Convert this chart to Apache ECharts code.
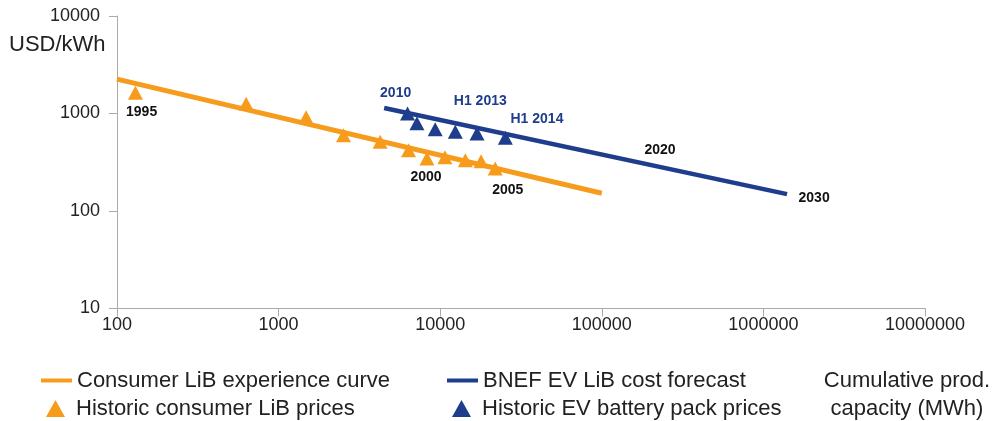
<!DOCTYPE html>
<html><head><meta charset="utf-8">
<script src="https://cdn.jsdelivr.net/npm/echarts@6/dist/echarts.min.js"></script>
<style>html,body{margin:0;padding:0;background:#fff}#c{width:997px;height:421px}</style>
</head><body><div id="c"></div>
<script>
// ---- data ----
const xTicks = [100, 1000, 10000, 100000, 1000000, 10000000];
const yTicks = [10, 100, 1000, 10000];
const consumerCurve = [[100, 2250], [100000, 152]];
const evForecast = [[4500, 1140], [1400000, 149]];
const consumerPrices = [[130, 1630], [630, 1260], [1480, 915], [2520, 600], [4250, 512], [6370, 420], [8280, 346], [10700, 355], [14300, 332], [17900, 324], [21900, 273]];
const evPrices = [[6280, 1000], [7180, 796], [9310, 690], [12400, 648], [16900, 624], [25300, 565]];
const yearLabels = ['1995', '2000', '2005', '2010', 'H1 2013', 'H1 2014', '2020', '2030'];
const yearLabelPos = [[142, 1039], [8170, 224], [26200, 164], [5300, 1603], [17700, 1336], [39700, 874], [229000, 421], [2060000, 135]];
const seriesNames = ['Consumer LiB experience curve', 'Historic consumer LiB prices', 'BNEF EV LiB cost forecast', 'Historic EV battery pack prices'];
const yAxisTitle = 'USD/kWh';
const xAxisTitle = ['Cumulative prod.', 'capacity (MWh)'];

// ---- styles ----
const ORANGE = '#f79b1c';
const BLUE = '#1f3d8d';
const FONT = '"Liberation Sans", Arial, sans-serif';
const TXT = '#222';
const blueLabelSet = new Set(['2010', 'H1 2013', 'H1 2014']);

const chart = echarts.init(document.getElementById('c'), null, {renderer: 'canvas'});
const triPath = 'path://M0,17L9.5,0L19,17Z';
const legendBase = {
  orient: 'vertical', itemGap: 0, padding: 0, selectedMode: false,
  textStyle: {fontFamily: FONT, fontSize: 22, color: TXT}
};
const fmt = v => String(Math.round(v));

chart.setOption({
  animation: false,
  textStyle: {fontFamily: FONT},
  grid: {left: 117, right: 72, top: 16, bottom: 112.5},
  xAxis: {
    type: 'log', logBase: 10, min: xTicks[0], max: xTicks[xTicks.length - 1],
    axisLine: {lineStyle: {color: '#aaa', width: 1}},
    axisTick: {show: true, length: 8, lineStyle: {color: '#aaa'}},
    minorTick: {show: false},
    splitLine: {show: false},
    axisLabel: {color: TXT, fontSize: 18, fontFamily: FONT, margin: 8, formatter: fmt}
  },
  yAxis: {
    type: 'log', logBase: 10, min: yTicks[0], max: yTicks[yTicks.length - 1],
    axisLine: {show: true, lineStyle: {color: '#aaa', width: 1}},
    axisTick: {show: true, length: 8, lineStyle: {color: '#aaa'}},
    splitLine: {show: false},
    axisLabel: {color: TXT, fontSize: 18, fontFamily: FONT, margin: 17, formatter: fmt}
  },
  legend: [
    Object.assign({}, legendBase, {data: [{name: seriesNames[0], icon: 'rect'}], left: 41, top: 369.5, itemWidth: 31, itemHeight: 4}),
    Object.assign({}, legendBase, {data: [{name: seriesNames[1], icon: triPath}], left: 46, top: 397.5, itemWidth: 31, itemHeight: 17}),
    Object.assign({}, legendBase, {data: [{name: seriesNames[2], icon: 'rect'}], left: 447, top: 369.5, itemWidth: 31, itemHeight: 4}),
    Object.assign({}, legendBase, {data: [{name: seriesNames[3], icon: triPath}], left: 452, top: 397.5, itemWidth: 31, itemHeight: 17})
  ],
  graphic: [
    {type: 'text', x: 9, y: 34, style: {text: yAxisTitle, font: '22px ' + FONT, fill: TXT}},
    {type: 'text', x: 907, y: 367, style: {text: xAxisTitle.join('\n'), font: '22px ' + FONT, fill: TXT, align: 'center', lineHeight: 28}}
  ],
  series: [
    {
      name: seriesNames[0], type: 'line', data: consumerCurve, showSymbol: false, symbol: 'none',
      lineStyle: {color: ORANGE, width: 5}, itemStyle: {color: ORANGE}, z: 2
    },
    {
      name: seriesNames[2], type: 'line', data: evForecast, showSymbol: false, symbol: 'none',
      lineStyle: {color: BLUE, width: 4.5}, itemStyle: {color: BLUE}, z: 2
    },
    {
      name: seriesNames[1], type: 'scatter', data: consumerPrices, symbol: 'triangle', symbolSize: [15, 14],
      itemStyle: {color: ORANGE, opacity: 1}, z: 3
    },
    {
      name: seriesNames[3], type: 'scatter', data: evPrices, symbol: 'triangle', symbolSize: [15, 14],
      itemStyle: {color: BLUE, opacity: 1}, z: 3
    },
    {
      name: 'labels', type: 'scatter', symbol: 'circle', symbolSize: 0, silent: true, z: 5,
      itemStyle: {color: 'transparent', opacity: 0},
      data: yearLabels.map((t, i) => ({
        name: t, value: yearLabelPos[i],
        label: {show: true, position: 'inside', formatter: t, fontSize: 14, fontWeight: 'bold', fontFamily: FONT,
          textBorderWidth: 0, textBorderColor: 'transparent', opacity: 1,
          color: blueLabelSet.has(t) ? BLUE : '#111'}
      }))
    }
  ]
});
</script></body></html>
